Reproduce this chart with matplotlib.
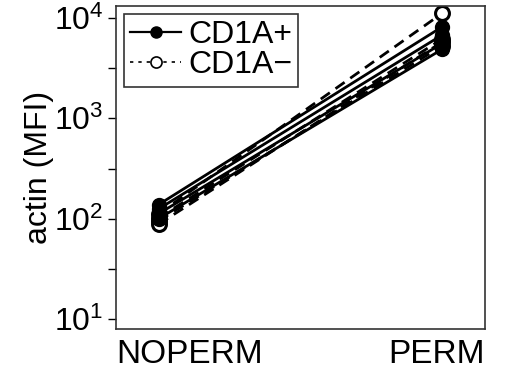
import matplotlib
matplotlib.use("Agg")
import matplotlib.pyplot as plt
from matplotlib.ticker import FixedLocator, NullFormatter
from matplotlib.lines import Line2D

plt.rcParams['font.family'] = ['Liberation Sans', 'DejaVu Sans']
plt.rcParams['mathtext.fontset'] = 'custom'
plt.rcParams['mathtext.rm'] = 'Liberation Sans'
plt.rcParams['mathtext.default'] = 'regular'

# data
conditions = ["NOPERM", "PERM"]
cd1a_pos_noperm = [138, 125, 112, 100]
cd1a_pos_perm = [8200, 6800, 5600, 4900]
cd1a_neg_noperm = [112, 102, 95, 88]
cd1a_neg_perm = [11200, 6200, 5300, 5800]

fig = plt.figure(figsize=(5.05, 3.73), dpi=100)
ax = fig.add_axes([116 / 505, 1 - 329 / 373, 369 / 505, 323 / 373])

x = [0, 1]
for a, b in zip(cd1a_neg_noperm, cd1a_neg_perm):
    ax.plot(x, [a, b], color='black', ls=(0, (4, 2.5)), lw=2, marker='o', ms=10,
            mfc='white', mec='black', mew=2.2, zorder=2)
for a, b in zip(cd1a_pos_noperm, cd1a_pos_perm):
    ax.plot(x, [a, b], color='black', ls='-', lw=2, marker='o', ms=10,
            mfc='black', mec='black', zorder=3)

ax.set_yscale('log')
ax.set_ylim(10 ** 0.9, 10 ** 4.12)
ax.set_xlim(-0.15, 1.15)

ax.yaxis.set_major_locator(FixedLocator([10, 100, 1000, 10000]))
ax.yaxis.set_minor_locator(FixedLocator([10 ** 1.5, 10 ** 2.5, 10 ** 3.5]))
ax.yaxis.set_minor_formatter(NullFormatter())
ax.set_yticklabels(['$10^{1}$', '$10^{2}$', '$10^{3}$', '$10^{4}$'])
ax.tick_params(axis='y', which='both', length=6, width=1, labelsize=23, pad=3)

ax.set_xticks([-0.15, 1.15])
ax.set_xticklabels(conditions)
ax.tick_params(axis='x', length=0, labelsize=24, pad=7)
labs = ax.get_xticklabels()
labs[0].set_ha('left')
labs[1].set_ha('right')

ax.set_ylabel('actin (MFI)', fontsize=23, labelpad=0)

for s in ax.spines.values():
    s.set_linewidth(1.2)
    s.set_color('#333333')

handles = [
    Line2D([], [], color='black', ls='-', lw=1.6, marker='o', ms=8, mfc='black'),
    Line2D([], [], color='black', ls=(0, (2, 3)), lw=1.2, marker='o', ms=8,
           mfc='white', mew=1.2),
]
leg = ax.legend(handles, ['CD1A+', 'CD1A\u2212'], loc='upper left', fontsize=23,
                frameon=True, fancybox=False, edgecolor='black', handlelength=1.6,
                handletextpad=0.2, borderpad=0.2, labelspacing=0.0,
                borderaxespad=0.25)
leg.get_frame().set_linewidth(1.2)

fig.savefig('out.png', dpi=100)
